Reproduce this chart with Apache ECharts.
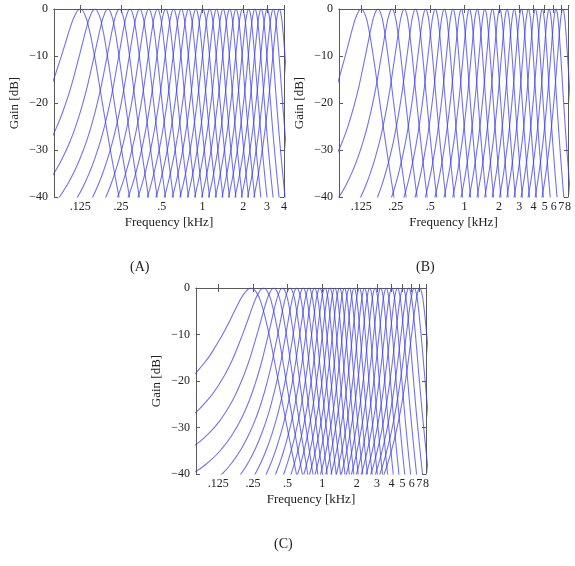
<!DOCTYPE html>
<html>
<head>
<meta charset="utf-8">
<script src="https://cdn.jsdelivr.net/npm/echarts@6/dist/echarts.min.js"></script>
<style>
  html, body { margin: 0; padding: 0; background: #fff; }
  #chart { width: 575px; height: 566px; }
</style>
</head>
<body>
<div id="chart"></div>
<script>
// filter centre frequencies (kHz) and bandwidths (kHz)
const centersA = [0.125, 0.1607, 0.2001, 0.2434, 0.2911, 0.3436, 0.4014, 0.465, 0.535, 0.6118, 0.6969, 0.7904, 0.8933, 1.0067, 1.1314, 1.2688, 1.42, 1.5866, 1.7697, 1.9717, 2.1937, 2.4387, 2.7082, 3.0047, 3.3315, 3.6908]
const widthsA = [0.0389, 0.0428, 0.0472, 0.0519, 0.0572, 0.063, 0.0693, 0.0763, 0.084, 0.0925, 0.1018, 0.1121, 0.1234, 0.1359, 0.1496, 0.1647, 0.1814, 0.1997, 0.2198, 0.242, 0.2665, 0.2934, 0.3231, 0.3557, 0.3916, 0.4311]

const centersB = [0.125, 0.1751, 0.2322, 0.2975, 0.3721, 0.4573, 0.5545, 0.665, 0.7914, 0.9358, 1.1009, 1.2889, 1.5041, 1.7495, 2.0291, 2.3488, 2.714, 3.1306, 3.6063, 4.1486, 4.7678, 5.4748, 6.2834, 7.2043]
const widthsB = [0.0389, 0.0444, 0.0507, 0.0579, 0.0661, 0.0755, 0.0862, 0.0983, 0.1122, 0.1281, 0.1463, 0.1669, 0.1906, 0.2176, 0.2484, 0.2835, 0.3237, 0.3695, 0.4218, 0.4815, 0.5496, 0.6274, 0.7163, 0.8176]

const centersC = [0.241, 0.3096, 0.38, 0.452, 0.526, 0.602, 0.684, 0.769, 0.859, 0.954, 1.058, 1.168, 1.289, 1.418, 1.562, 1.722, 1.899, 2.107, 2.339, 2.591, 2.889, 3.227, 3.606, 4.035, 4.52, 5.06, 5.664, 6.322, 7.058]
const widthsC = [0.1188, 0.1206, 0.1232, 0.1264, 0.1304, 0.1351, 0.1409, 0.1474, 0.155, 0.1635, 0.1736, 0.185, 0.1983, 0.2131, 0.2305, 0.2507, 0.2741, 0.303, 0.3364, 0.3741, 0.4205, 0.4754, 0.539, 0.6137, 0.701, 0.8013, 0.9173, 1.0472, 1.1967]

// one filter's response: distance from centre (in bandwidths) -> gain (dB)
const shapeX = [-3.5, -3.25, -3, -2.75, -2.5, -2.25, -2, -1.75, -1.5, -1.25, -1, -0.75, -0.5, -0.25, 0, 0.25, 0.5, 0.75, 1, 1.25, 1.5, 1.75, 2, 2.25, 2.5, 2.75, 3, 3.25, 3.5]
const shapeDb = [-44.9, -42.5, -40, -37.3, -34.4, -31.3, -28, -24.4, -20.5, -16.4, -12, -7.8, -3.9, -1.1, 0, -1.1, -3.9, -7.8, -12, -16.4, -20.5, -24.4, -28, -31.3, -34.4, -37.3, -40, -42.5, -44.9]

const freqTicksA = [0.125, 0.25, 0.5, 1, 2, 3, 4]
const freqTicksBC = [0.125, 0.25, 0.5, 1, 2, 3, 4, 5, 6, 7, 8]
const captions = ['(A)', '(B)', '(C)']

const font = 'Liberation Serif'
const lineColor = 'rgba(60, 60, 230, 0.72)'
const frameColor = '#5a5a5a'

const fmtFreq = v => (v < 1 ? String(v).replace(/^0/, '') : String(v))
const fmtGain = v => String(v).replace('-', '\u2212')

const panels = [
  { grid: { left: 54, top: 9, width: 230, height: 188 }, max: 4, ticks: freqTicksA, centers: centersA, widths: widthsA },
  { grid: { left: 339, top: 9, width: 229, height: 188 }, max: 8, ticks: freqTicksBC, centers: centersB, widths: widthsB },
  { grid: { left: 196, top: 288, width: 230, height: 186 }, max: 8, ticks: freqTicksBC, centers: centersC, widths: widthsC }
]

const grid = [], xAxis = [], yAxis = [], series = []

panels.forEach((p, i) => {
  grid.push(p.grid)
  const tick = { show: true, inside: true, length: 4, lineStyle: { color: frameColor } }
  xAxis.push({
    type: 'log', logBase: 2, gridIndex: i, min: 0.08, max: p.max, position: 'bottom',
    name: 'Frequency [kHz]', nameLocation: 'middle', nameGap: 19,
    nameTextStyle: { fontFamily: font, fontSize: 13, color: '#222' },
    axisLine: { show: true, lineStyle: { color: frameColor, width: 1 } },
    axisTick: Object.assign({ customValues: p.ticks }, tick),
    axisLabel: { customValues: p.ticks, formatter: fmtFreq, fontFamily: font, fontSize: 12, color: '#222', margin: 4 },
    splitLine: { show: false }
  })
  // top edge of the frame
  xAxis.push({
    type: 'log', logBase: 2, gridIndex: i, min: 0.08, max: p.max, position: 'top',
    axisLine: { show: true, onZero: false, lineStyle: { color: frameColor, width: 1 } },
    axisTick: Object.assign({ customValues: p.ticks }, tick),
    axisLabel: { show: false },
    splitLine: { show: false }
  })
  yAxis.push({
    type: 'value', gridIndex: i, min: -40, max: 0, interval: 10, position: 'left',
    name: 'Gain [dB]', nameLocation: 'middle', nameGap: 33, nameRotate: 90,
    nameTextStyle: { fontFamily: font, fontSize: 13, color: '#222' },
    axisLine: { show: true, lineStyle: { color: frameColor, width: 1 } },
    axisTick: tick,
    axisLabel: { formatter: fmtGain, fontFamily: font, fontSize: 12, color: '#222', margin: 6 },
    splitLine: { show: false }
  })
  // right edge of the frame
  yAxis.push({
    type: 'value', gridIndex: i, min: -40, max: 0, interval: 10, position: 'right',
    axisLine: { show: true, onZero: false, lineStyle: { color: frameColor, width: 1 } },
    axisTick: tick,
    axisLabel: { show: false },
    splitLine: { show: false }
  })
  p.centers.forEach((fc, k) => {
    const b = p.widths[k]
    const data = []
    shapeX.forEach((x, j) => {
      const f = fc + x * b
      if (f > 0) data.push([f, shapeDb[j]])
    })
    series.push({
      type: 'line', xAxisIndex: i * 2, yAxisIndex: i * 2, data: data,
      smooth: true, showSymbol: false, silent: true,
      lineStyle: { color: lineColor, width: 1.1 }
    })
  })
})

const chart = echarts.init(document.getElementById('chart'), null, { renderer: 'canvas' })
chart.setOption({
  animation: false,
  grid: grid,
  xAxis: xAxis,
  yAxis: yAxis,
  series: series,
  graphic: [
    { type: 'text', left: 130, top: 260, style: { text: captions[0], font: '14px "Liberation Serif"', fill: '#222' } },
    { type: 'text', left: 416, top: 260, style: { text: captions[1], font: '14px "Liberation Serif"', fill: '#222' } },
    { type: 'text', left: 274, top: 537, style: { text: captions[2], font: '14px "Liberation Serif"', fill: '#222' } }
  ]
})
</script>
</body>
</html>
